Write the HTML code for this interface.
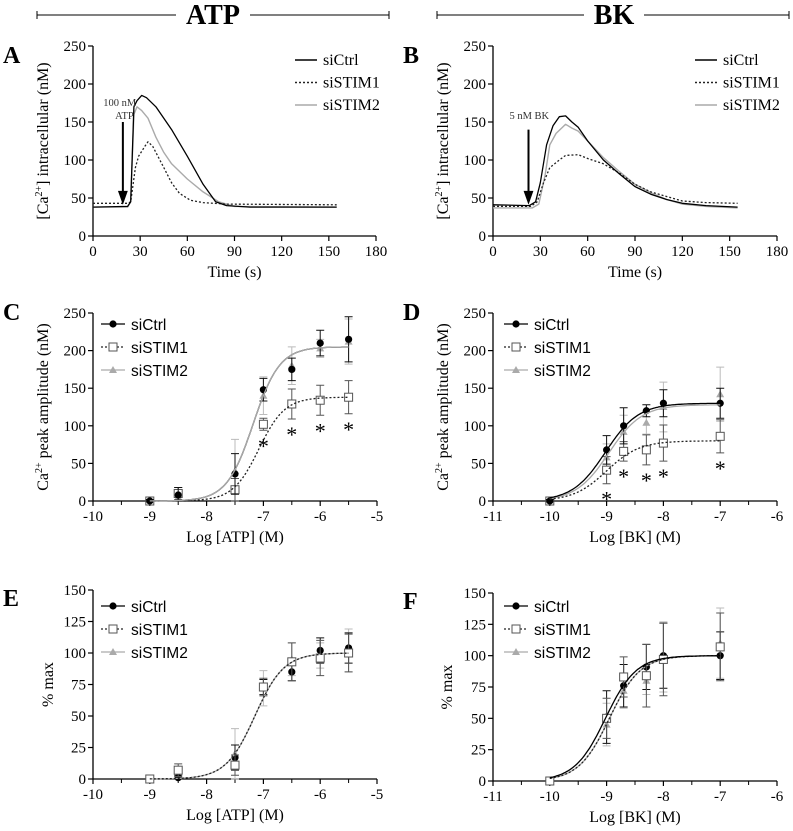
<!DOCTYPE html>
<html><head><meta charset="utf-8">
<style>
html,body{margin:0;padding:0;background:#fff;}
svg{display:block;}
.serif{font-family:"Liberation Serif",serif;}
.sans{font-family:"Liberation Sans",sans-serif;}
</style></head>
<body>
<svg id="fig" width="793" height="831" viewBox="0 0 793 831" xmlns="http://www.w3.org/2000/svg"></svg>
<script>
// ---------- DATA ----------
const atpCtrlT = [0,22,24,26,28,31,34,40,50,60,70,78,85,100,155];
const atpCtrlV = [38,39,45,170,178,185,182,170,140,105,68,45,40,38,38];
const atpS1T = [0,22,24,27,29,33,35,38,45,50,55,62,70,85,155];
const atpS1V = [43,43,45,90,105,118,124,118,90,70,56,47,44,42,41];
const atpS2T = [0,22,24,26,28,31,35,40,45,50,60,70,80,90,155];
const atpS2V = [38,38,45,160,170,165,155,130,110,95,75,58,45,39,38];
const bkCtrlT = [0,23,27,30,34,38,42,46,50,54,60,70,80,90,100,110,120,135,155];
const bkCtrlV = [41,40,45,70,120,145,157,158,150,143,125,100,82,65,55,48,43,40,38];
const bkS1T = [0,24,28,32,36,42,46,54,60,70,80,90,100,110,120,135,155];
const bkS1V = [39,39,45,70,90,100,106,107,102,95,83,68,58,52,46,44,43];
const bkS2T = [0,25,29,33,36,40,46,50,54,60,70,80,90,100,110,120,135,155];
const bkS2V = [37,37,42,80,120,135,147,142,138,125,103,85,68,57,48,42,39,37];
const atpLogDose = [-9,-8.5,-7.5,-7,-6.5,-6,-5.5];
const cCtrl = [0,8,36,148,175,210,215];
const cCtrlErr = [2,10,27,15,15,17,30];
const cS1 = [0,10,15,102,129,134,138];
const cS1Err = [1,8,15,8,20,20,22];
const cS2 = [0,5,40,140,180,203,212];
const cS2Err = [1,5,42,25,25,12,30];
const cFitCtrl = [205,-7.18,1.86];
const cFitS1 = [138,-7.08,1.9];
const cFitS2 = [205,-7.18,1.86];
const cStars = [-7,-6.5,-6,-5.5];
const bkLogDose = [-10,-9,-8.7,-8.3,-8,-7];
const dCtrl = [0,68,100,120,130,130];
const dCtrlErr = [2,19,24,8,18,20];
const dS1 = [0,41,66,68,77,86];
const dS1Err = [1,18,13,20,24,22];
const dS2 = [0,58,92,104,125,142];
const dS2Err = [1,18,22,15,33,36];
const dFitCtrl = [130,-9.02,1.5];
const dFitS1 = [80,-9.0,1.5];
const dFitS2 = [128,-8.96,1.5];
const dStars = [-9,-8.7,-8.3,-8,-7];
const eCtrl = [0,1,17,73,85,102,104];
const eCtrlErr = [1,2,10,6,7,10,12];
const eS1 = [0,7,11,73,93,96,100];
const eS1Err = [1,5,8,7,15,14,15];
const eS2 = [0,2,20,72,95,98,102];
const eS2Err = [1,3,20,14,13,10,17];
const eFit = [100,-7.15,1.7];
const fCtrl = [0,51,76,91,100,100];
const fCtrlErr = [1,21,17,18,26,19];
const fS1 = [0,50,83,84,97,107];
const fS1Err = [1,16,16,25,29,27];
const fS2 = [0,45,72,80,99,110];
const fS2Err = [1,17,14,11,28,28];
const fFitCtrl = [100,-9.02,1.6];
const fFitOther = [100,-8.95,1.6];
const timeTicks = [0,30,60,90,120,150,180];
const concTicks = [0,50,100,150,200,250];
const pctTicks = [0,25,50,75,100,125,150];
const atpXTicks = [-10,-9,-8,-7,-6,-5];
const bkXTicks = [-11,-10,-9,-8,-7,-6];

// ---------- HELPERS ----------
const NS = "http://www.w3.org/2000/svg";
const svg = document.getElementById('fig');
function named(el, name, inter) {
  
  
  return el;
}
function mk(tag, attrs, parent) {
  const e = document.createElementNS(NS, tag);
  for (const k in attrs) e.setAttribute(k, attrs[k]);
  (parent || svg).appendChild(e);
  return e;
}
function txt(x, y, s, attrs, parent, name) {
  const a = Object.assign({x: x, y: y}, attrs);
  const t = mk('text', a, parent);
  t.textContent = s;
  named(t, name);
  return t;
}
function scale(d0, d1, p0, p1) { return v => p0 + (v - d0) / (d1 - d0) * (p1 - p0); }

function axes(g, sx, sy, xt, yt, xMinor, x0, x1, y0, y1, xlab, ylabHTML, ylabX) {
  const ax = mk('path', {d: `M${sx(x0)},${sy(y1)}V${sy(y0)}H${sx(x1)}`, stroke: '#000', 'stroke-width': 1.3, fill: 'none'}, g);
  named(ax, 'axes-lines');
  xt.forEach(v => {
    const t = mk('line', {x1: sx(v), x2: sx(v), y1: sy(y0), y2: sy(y0) + 5, stroke: '#000', 'stroke-width': 1.2}, g);
    named(t, 'x-tick');
    txt(sx(v), sy(y0) + 20, String(v).replace('-', '\u2011'), {'text-anchor': 'middle', 'font-size': 15, class: 'serif'}, g, 'x-tick-label');
  });
  if (xMinor) xt.slice(0, -1).forEach(v => {
    const t = mk('line', {x1: sx(v + 0.5), x2: sx(v + 0.5), y1: sy(y0), y2: sy(y0) + 4, stroke: '#000', 'stroke-width': 1}, g);
    named(t, 'x-minor-tick');
  });
  yt.forEach(v => {
    const t = mk('line', {x1: sx(x0) - 5, x2: sx(x0), y1: sy(v), y2: sy(v), stroke: '#000', 'stroke-width': 1.2}, g);
    named(t, 'y-tick');
    txt(sx(x0) - 7, sy(v) + 5, String(v), {'text-anchor': 'end', 'font-size': 15, class: 'serif'}, g, 'y-tick-label');
  });
  txt((sx(x0) + sx(x1)) / 2, sy(y0) + 41, xlab, {'text-anchor': 'middle', 'font-size': 16, class: 'serif'}, g, 'x-axis-title');
  const cy = (sy(y0) + sy(y1)) / 2;
  const yl = mk('text', {x: 0, y: 0, transform: `translate(${ylabX},${cy}) rotate(-90)`, 'text-anchor': 'middle', 'font-size': 16, class: 'serif'}, g);
  yl.innerHTML = ylabHTML;
  named(yl, 'y-axis-title');
}

const STY = {
  ctrl: {stroke: '#000', dash: null, err: '#111'},
  s1: {stroke: '#222', dash: '2,2', err: '#555'},
  s2: {stroke: '#aaa', dash: null, err: '#bbb'}
};

function trace(g, sx, sy, T, V, key, name) {
  const d = T.map((t, i) => (i ? 'L' : 'M') + sx(t).toFixed(1) + ',' + sy(V[i]).toFixed(1)).join('');
  const p = mk('path', {d: d, fill: 'none', stroke: STY[key].stroke, 'stroke-width': key === 's2' ? 1.4 : 1.3, 'stroke-linejoin': 'round'}, g);
  if (STY[key].dash) p.setAttribute('stroke-dasharray', STY[key].dash);
  named(p, name);
}
function fitCurve(g, sx, sy, xa, xb, fit, key, name) {
  let d = '';
  for (let i = 0; i <= 120; i++) {
    const x = xa + (xb - xa) * i / 120;
    const y = fit[0] / (1 + Math.pow(10, (fit[1] - x) * fit[2]));
    d += (i ? 'L' : 'M') + sx(x).toFixed(1) + ',' + sy(y).toFixed(1);
  }
  const p = mk('path', {d: d, fill: 'none', stroke: STY[key].stroke, 'stroke-width': 1.3}, g);
  if (STY[key].dash) p.setAttribute('stroke-dasharray', STY[key].dash);
  named(p, name);
}
function marker(g, x, y, key, name) {
  let m;
  if (key === 'ctrl') m = mk('circle', {cx: x, cy: y, r: 3.6, fill: '#000'}, g);
  else if (key === 's1') m = mk('rect', {x: x - 4, y: y - 4, width: 8, height: 8, fill: '#fff', stroke: '#555', 'stroke-width': 1}, g);
  else m = mk('path', {d: `M${x},${y - 4}L${x + 4},${y + 3}L${x - 4},${y + 3}Z`, fill: '#aaa'}, g);
  named(m, name);
}
function points(g, sx, sy, X, V, E, key, name) {
  X.forEach((x, i) => {
    const px = sx(x), t = sy(V[i] + E[i]), b = sy(Math.max(0, V[i] - E[i]));
    const eb = mk('path', {d: `M${px},${t}V${b}M${px - 4},${t}H${px + 4}M${px - 4},${b}H${px + 4}`, stroke: STY[key].err, 'stroke-width': 1, fill: 'none'}, g);
    named(eb, name + '-error-bar');
  });
  X.forEach((x, i) => marker(g, sx(x), sy(V[i]), key, name + '-point'));
}
function stars(g, sx, sy, X, allX, V, E) {
  X.forEach(x => {
    const i = allX.indexOf(x);
    txt(sx(x), sy(V[i] - E[i]) + 23, '*', {'text-anchor': 'middle', 'font-size': 22, class: 'serif'}, g, 'significance-star');
  });
}
function legendLeft(g, x, y) {
  const rows = [['ctrl', 'siCtrl'], ['s1', 'siSTIM1'], ['s2', 'siSTIM2']];
  rows.forEach((r, i) => {
    const yy = y + i * 23;
    const l = mk('line', {x1: x, x2: x + 24, y1: yy, y2: yy, stroke: STY[r[0]].stroke, 'stroke-width': 1.3}, g);
    if (STY[r[0]].dash) l.setAttribute('stroke-dasharray', STY[r[0]].dash);
    named(l, 'legend-line-' + r[1]);
    marker(g, x + 12, yy, r[0], 'legend-marker-' + r[1]);
    txt(x + 30, yy + 6, r[1], {'font-size': 15.5, class: 'sans'}, g, 'legend-label-' + r[1]);
  });
}
function legendRight(g, x, y) {
  const rows = [['ctrl', 'siCtrl'], ['s1', 'siSTIM1'], ['s2', 'siSTIM2']];
  rows.forEach((r, i) => {
    const yy = y + i * 22.5;
    const l = mk('line', {x1: x, x2: x + 22, y1: yy, y2: yy, stroke: STY[r[0]].stroke, 'stroke-width': 1.4}, g);
    if (STY[r[0]].dash) l.setAttribute('stroke-dasharray', STY[r[0]].dash);
    named(l, 'legend-line-' + r[1]);
    txt(x + 28, yy + 5, r[1], {'font-size': 16, class: 'serif'}, g, 'legend-label-' + r[1]);
  });
}
function group(name) { const g = mk('g', {}); named(g, name); return g; }
function header(label, cx, l0, l1, gap) {
  const g = group('header-' + label.toLowerCase());
  const p = mk('path', {d: `M${l0},15H${cx - gap}M${cx + gap},15H${l1}M${l0},11V19M${l1},11V19`, stroke: '#000', 'stroke-width': 1}, g);
  named(p, 'header-bracket');
  txt(cx, 24, label, {'text-anchor': 'middle', 'font-size': 28, 'font-weight': 'bold', class: 'serif'}, g, 'header-title');
}
function letter(s, x, y) { txt(x, y, s, {'font-size': 24, 'font-weight': 'bold', class: 'serif'}, svg, 'panel-label-' + s); }

// ---------- DRAW ----------
header('ATP', 213, 37, 389, 37);
header('BK', 614, 437, 789, 30);
const caLab = '[Ca<tspan font-size="10" dy="-6">2+</tspan><tspan dy="6">] intracellular (nM)</tspan>';
const peakLab = 'Ca<tspan font-size="10" dy="-6">2+</tspan><tspan dy="6"> peak amplitude (nM)</tspan>';

{
  const g = group('panel-a');
  letter('A', 3, 63);
  const sx = scale(0, 180, 93, 376), sy = scale(0, 250, 236, 46);
  axes(g, sx, sy, timeTicks, concTicks, false, 0, 180, 0, 250, 'Time (s)', caLab, 48);
  trace(g, sx, sy, atpS2T, atpS2V, 's2', 'trace-sistim2');
  trace(g, sx, sy, atpS1T, atpS1V, 's1', 'trace-sistim1');
  trace(g, sx, sy, atpCtrlT, atpCtrlV, 'ctrl', 'trace-sictrl');
  const ar = mk('path', {d: `M${sx(19)},${sy(150)}V${sy(48)}M${sx(19) - 3.5},${sy(58)}L${sx(19)},${sy(45)}L${sx(19) + 3.5},${sy(58)}Z`, stroke: '#000', 'stroke-width': 2, fill: '#000'}, g);
  named(ar, 'stimulus-arrow');
  txt(sx(17), 106, '100 nM', {'text-anchor': 'middle', 'font-size': 10.5, class: 'serif', fill: '#333'}, g, 'stimulus-label');
  txt(sx(20), 119, 'ATP', {'text-anchor': 'middle', 'font-size': 10.5, class: 'serif', fill: '#333'}, g, 'stimulus-label');
  legendRight(g, 295, 60);
}
{
  const g = group('panel-b');
  letter('B', 403, 63);
  const sx = scale(0, 180, 493, 777), sy = scale(0, 250, 236, 46);
  axes(g, sx, sy, timeTicks, concTicks, false, 0, 180, 0, 250, 'Time (s)', caLab, 448);
  trace(g, sx, sy, bkS2T, bkS2V, 's2', 'trace-sistim2');
  trace(g, sx, sy, bkS1T, bkS1V, 's1', 'trace-sistim1');
  trace(g, sx, sy, bkCtrlT, bkCtrlV, 'ctrl', 'trace-sictrl');
  const ar = mk('path', {d: `M${sx(22.5)},${sy(140)}V${sy(48)}M${sx(22.5) - 3.5},${sy(58)}L${sx(22.5)},${sy(45)}L${sx(22.5) + 3.5},${sy(58)}Z`, stroke: '#000', 'stroke-width': 2, fill: '#000'}, g);
  named(ar, 'stimulus-arrow');
  txt(sx(23), 119, '5 nM BK', {'text-anchor': 'middle', 'font-size': 10.5, class: 'serif', fill: '#333'}, g, 'stimulus-label');
  legendRight(g, 695, 60);
}
{
  const g = group('panel-c');
  letter('C', 3, 320);
  const sx = scale(-10, -5, 93, 377), sy = scale(0, 250, 501, 313);
  axes(g, sx, sy, atpXTicks, concTicks, true, -10, -5, 0, 250, 'Log [ATP] (M)', peakLab, 48);
  points(g, sx, sy, atpLogDose, cS2, cS2Err, 's2', 'sistim2');
  points(g, sx, sy, atpLogDose, cS1, cS1Err, 's1', 'sistim1');
  points(g, sx, sy, atpLogDose, cCtrl, cCtrlErr, 'ctrl', 'sictrl');
  fitCurve(g, sx, sy, -9, -5.5, cFitS1, 's1', 'fit-sistim1');
  fitCurve(g, sx, sy, -9, -5.5, cFitCtrl, 'ctrl', 'fit-sictrl');
  fitCurve(g, sx, sy, -9, -5.5, cFitS2, 's2', 'fit-sistim2');
  stars(g, sx, sy, cStars, atpLogDose, cS1, cS1Err);
  legendLeft(g, 101, 324);
}
{
  const g = group('panel-d');
  letter('D', 403, 320);
  const sx = scale(-11, -6, 493, 777), sy = scale(0, 250, 501, 313);
  axes(g, sx, sy, bkXTicks, concTicks, true, -11, -6, 0, 250, 'Log [BK] (M)', peakLab, 448);
  points(g, sx, sy, bkLogDose, dS2, dS2Err, 's2', 'sistim2');
  points(g, sx, sy, bkLogDose, dS1, dS1Err, 's1', 'sistim1');
  points(g, sx, sy, bkLogDose, dCtrl, dCtrlErr, 'ctrl', 'sictrl');
  fitCurve(g, sx, sy, -10, -7, dFitS2, 's2', 'fit-sistim2');
  fitCurve(g, sx, sy, -10, -7, dFitS1, 's1', 'fit-sistim1');
  fitCurve(g, sx, sy, -10, -7, dFitCtrl, 'ctrl', 'fit-sictrl');
  stars(g, sx, sy, dStars, bkLogDose, dS1, dS1Err);
  legendLeft(g, 504, 324);
}
{
  const g = group('panel-e');
  letter('E', 3, 606);
  const sx = scale(-10, -5, 93, 377), sy = scale(0, 150, 779, 590);
  axes(g, sx, sy, atpXTicks, pctTicks, true, -10, -5, 0, 150, 'Log [ATP] (M)', '% max', 53);
  points(g, sx, sy, atpLogDose, eS2, eS2Err, 's2', 'sistim2');
  points(g, sx, sy, atpLogDose, eCtrl, eCtrlErr, 'ctrl', 'sictrl');
  points(g, sx, sy, atpLogDose, eS1, eS1Err, 's1', 'sistim1');
  fitCurve(g, sx, sy, -9, -5.5, eFit, 's2', 'fit-sistim2');
  fitCurve(g, sx, sy, -9, -5.5, eFit, 's1', 'fit-sistim1');
  legendLeft(g, 101, 606);
}
{
  const g = group('panel-f');
  letter('F', 403, 609);
  const sx = scale(-11, -6, 493, 777), sy = scale(0, 150, 781, 593);
  axes(g, sx, sy, bkXTicks, pctTicks, true, -11, -6, 0, 150, 'Log [BK] (M)', '% max', 452);
  points(g, sx, sy, bkLogDose, fS2, fS2Err, 's2', 'sistim2');
  points(g, sx, sy, bkLogDose, fCtrl, fCtrlErr, 'ctrl', 'sictrl');
  points(g, sx, sy, bkLogDose, fS1, fS1Err, 's1', 'sistim1');
  fitCurve(g, sx, sy, -10, -7, fFitOther, 's2', 'fit-sistim2');
  fitCurve(g, sx, sy, -10, -7, fFitOther, 's1', 'fit-sistim1');
  fitCurve(g, sx, sy, -10, -7, fFitCtrl, 'ctrl', 'fit-sictrl');
  legendLeft(g, 504, 606);
}
</script>
</body></html>
